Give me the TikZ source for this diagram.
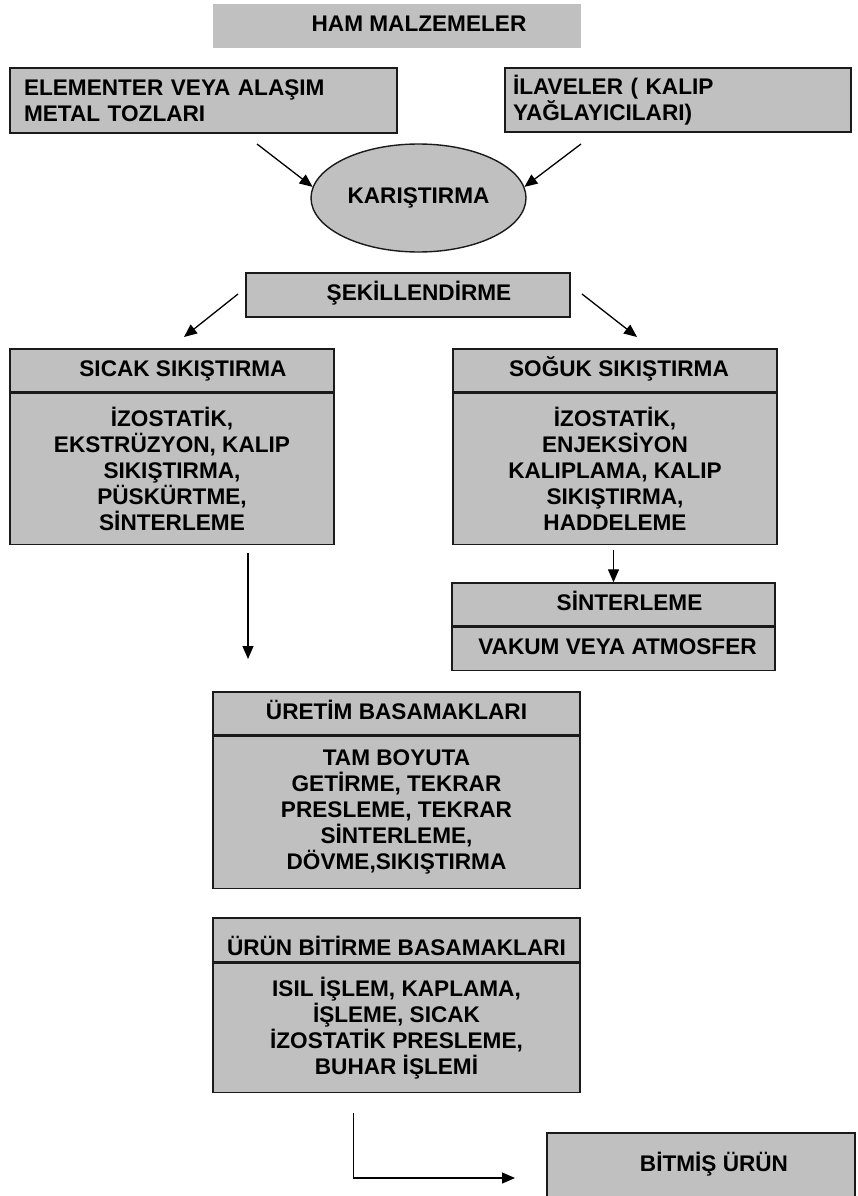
\documentclass[tikz,border=0pt]{standalone}
\usepackage{fontspec}
\setmainfont{Liberation Sans}
\usetikzlibrary{arrows.meta, positioning, shapes.geometric}
\definecolor{boxgray}{RGB}{192,192,192}
\definecolor{edgegray}{RGB}{26,26,26}

\begin{document}
\begin{tikzpicture}[x=1pt,y=-1pt,>={Triangle[length=13pt,width=11pt]},
  every node/.style={font=\fontsize{22.6}{26}\selectfont\bfseries, inner sep=0pt},
  gray box/.style={rectangle, fill=boxgray, draw=edgegray, line width=1.4pt},
  head box/.style={gray box, text height=16pt, text depth=5pt},
  body box/.style={gray box, align=center},
  input box/.style={gray box, line width=2pt, align=left},
  mix node/.style={ellipse, fill=boxgray, draw=edgegray, line width=1.4pt, minimum width=215pt, minimum height=108pt},
  link/.style={->, line width=1.3pt}]

  \useasboundingbox (0,0) rectangle (857,1196);
  \clip (0,0) rectangle (857,1196);

  % raw materials
  \node[head box, draw=none, minimum width=368pt, minimum height=44pt] (ham) at (397,26) {\hspace*{44pt}HAM MALZEMELER};
  \node[input box, inner xsep=14pt, text width=359pt, minimum height=65pt] (elem) at (203.5,100.5) {ELEMENTER VEYA ALAŞIM\\METAL TOZLARI};
  \node[input box, inner xsep=8pt, text width=330pt, minimum height=64pt] (ilave) at (678,100) {İLAVELER ( KALIP\\YAĞLAYICILARI)};
  \node[mix node] (karis) at (418.5,198) {KARIŞTIRMA};

  % shaping
  \node[head box, minimum width=324pt, minimum height=44pt] (sekil) at (408,295) {\hspace*{22pt}ŞEKİLLENDİRME};

  \node[head box, minimum width=324pt, minimum height=43pt] (sicakT) at (172,370.5) {\hspace*{22pt}SICAK SIKIŞTIRMA};
  \node[body box, minimum width=324pt, minimum height=151pt] (sicakB) [below=0pt of sicakT]
    {İZOSTATİK,\\EKSTRÜZYON, KALIP\\SIKIŞTIRMA,\\PÜSKÜRTME,\\SİNTERLEME};

  \node[head box, minimum width=324pt, minimum height=43pt] (sogukT) at (615,370.5) {\hspace*{8pt}SOĞUK SIKIŞTIRMA};
  \node[body box, minimum width=324pt, minimum height=151pt] (sogukB) [below=0pt of sogukT]
    {İZOSTATİK,\\ENJEKSİYON\\KALIPLAMA, KALIP\\SIKIŞTIRMA,\\HADDELEME};

  \node[head box, minimum width=323pt, minimum height=43pt] (sintT) at (613.5,604.5) {\hspace*{32pt}SİNTERLEME};
  \node[head box, minimum width=323pt, minimum height=43pt] (sintB) [below=0pt of sintT] {\hspace*{8pt}VAKUM VEYA ATMOSFER};

  % production and finishing
  \node[head box, minimum width=367pt, minimum height=43pt] (uretT) at (396.5,713.5) {ÜRETİM BASAMAKLARI};
  \node[body box, minimum width=367pt, minimum height=152pt] (uretB) [below=0pt of uretT]
    {TAM BOYUTA\\GETİRME, TEKRAR\\PRESLEME, TEKRAR\\SİNTERLEME,\\DÖVME,SIKIŞTIRMA};

  \node[head box, text height=35pt, minimum width=367pt, minimum height=44pt] (urunT) at (396.5,940) {ÜRÜN BİTİRME BASAMAKLARI};
  \node[body box, minimum width=367pt, minimum height=129pt] (urunB) [below=0pt of urunT]
    {ISIL İŞLEM, KAPLAMA,\\İŞLEME, SICAK\\İZOSTATİK PRESLEME,\\BUHAR İŞLEMİ};

  \node[head box, minimum width=308pt, minimum height=66pt] (bitmis) at (701,1166) {\hspace*{26pt}BİTMİŞ ÜRÜN};

  % free ends of the connectors
  \coordinate (e1) at (257,144);
  \coordinate (i1) at (581,144);
  \coordinate (s1) at (238,294);
  \coordinate (s2) at (184,337);
  \coordinate (s3) at (582,294);
  \coordinate (s4) at (637,337);
  \coordinate (h1) at (248,553);
  \coordinate (h2) at (248,659);
  \coordinate (c1) at (613.5,550);
  \coordinate (f1) at (353.5,1113);
  \coordinate (f2) at (515,1178);

  \path[link]
       (e1) edge (karis.174)
       (i1) edge (karis.6)
       (s1) edge (s2)
       (s3) edge (s4)
       (h1) edge (h2)
       (c1) edge (sintT.north);
  \draw[link] (f1) |- (f2);
\end{tikzpicture}
\end{document}
